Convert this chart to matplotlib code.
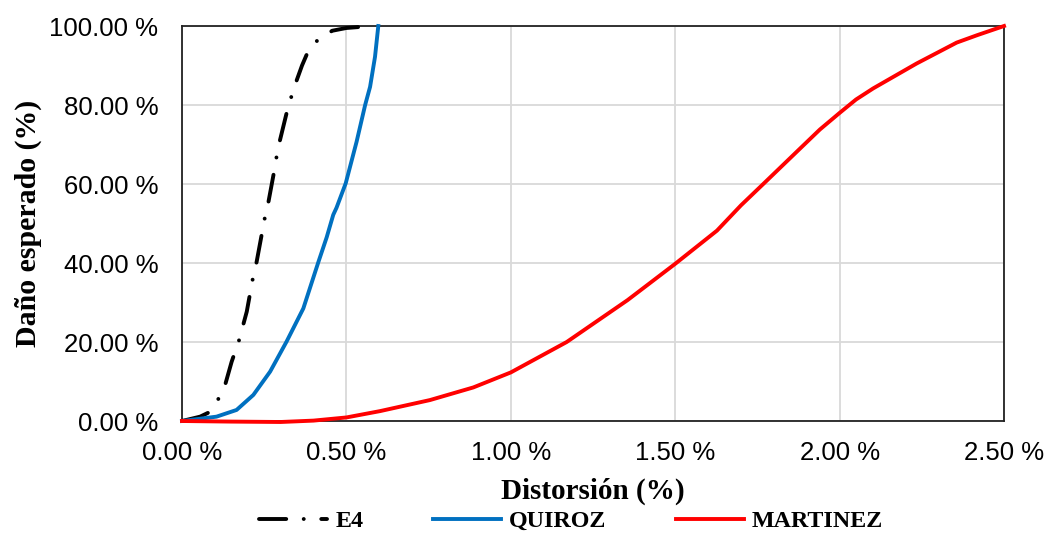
import matplotlib
matplotlib.use("Agg")
import matplotlib.pyplot as plt
from matplotlib.ticker import FuncFormatter

# Data (distortion %, expected damage %)
e4_x = [0, 0.055, 0.080, 0.110, 0.131, 0.151, 0.173, 0.197, 0.215, 0.227, 0.252, 0.263,
        0.280, 0.288, 0.298, 0.320, 0.334, 0.349, 0.365, 0.382, 0.415, 0.457, 0.500, 0.547, 0.58]
e4_y = [0, 1.1, 2.1, 5.5, 9.1, 15.0, 20.3, 27.7, 35.9, 40.3, 51.5, 55.5,
        63.1, 67.1, 71.1, 78.6, 82.5, 86.3, 90.0, 93.3, 96.7, 98.8, 99.5, 99.8, 100]

quiroz_x = [0, 0.105, 0.166, 0.217, 0.268, 0.318, 0.369, 0.415, 0.440, 0.460, 0.470,
            0.498, 0.531, 0.557, 0.572, 0.587, 0.597]
quiroz_y = [0, 1.1, 2.8, 6.6, 12.5, 20.1, 28.5, 40.3, 46.5, 52.2, 54.0,
            60.2, 70.7, 80.0, 84.6, 92.2, 100]

martinez_x = [0, 0.15, 0.30, 0.40, 0.50, 0.602, 0.754, 0.886, 1.0, 1.17, 1.355, 1.5,
              1.627, 1.70, 1.769, 1.88, 1.94, 2.0, 2.05, 2.102, 2.234, 2.356, 2.419, 2.5]
martinez_y = [0, -0.15, -0.25, 0.1, 0.9, 2.5, 5.3, 8.5, 12.3, 20.0, 30.6, 39.8,
              48.2, 54.6, 60.1, 69.0, 73.8, 78.0, 81.4, 84.2, 90.5, 95.8, 97.7, 100]

x_ticks = [0, 0.5, 1.0, 1.5, 2.0, 2.5]
y_ticks = [0, 20, 40, 60, 80, 100]

fig = plt.figure(figsize=(10.52, 5.34), dpi=100)
ax = fig.add_axes([0.173, 0.2116, 0.7814, 0.7397])

serif = ['Liberation Serif', 'DejaVu Serif']
sans = ['Liberation Sans', 'DejaVu Sans']

ax.plot(e4_x, e4_y, color='black', lw=2.8, linestyle=(0, (7, 4.5, 0.01, 4.5)),
        dash_capstyle='round', label='E4', clip_on=False, zorder=3)
ax.plot(quiroz_x, quiroz_y, color='#0070C0', lw=2.8, label='QUIROZ', clip_on=False, zorder=3)
ax.plot(martinez_x, martinez_y, color='#FF0000', lw=2.8, label='MARTINEZ', clip_on=False, zorder=4)

ax.set_xlim(0, 2.5)
ax.set_ylim(0, 100)
ax.set_xticks(x_ticks)
ax.set_yticks(y_ticks)
ax.xaxis.set_major_formatter(FuncFormatter(lambda v, p: f"{v:.2f} %"))
ax.yaxis.set_major_formatter(FuncFormatter(lambda v, p: f"{v:.2f} %"))
ax.grid(True, color='#d9d9d9', lw=1.3)
ax.set_axisbelow(True)
ax.tick_params(axis='x', length=0, pad=14.5, labelsize=18.5)
ax.tick_params(axis='y', length=0, pad=17, labelsize=18.5)
for lab in ax.get_xticklabels() + ax.get_yticklabels():
    lab.set_family(sans)
for s in ax.spines.values():
    s.set_color('#222222')
    s.set_linewidth(1.3)

ax.set_xlabel('Distorsión (%)', family=serif, fontweight='bold', fontsize=21, labelpad=9)
ax.set_ylabel('Daño esperado (%)', family=serif, fontweight='bold', fontsize=21.5, labelpad=5)

leg = fig.legend(loc='center', bbox_to_anchor=(0.543, 0.024), ncol=3, frameon=False,
                 prop={'family': serif, 'weight': 'bold', 'size': 17.3},
                 handlelength=2.83, columnspacing=2.9, handletextpad=0.33)

fig.savefig('out.png', dpi=100)
